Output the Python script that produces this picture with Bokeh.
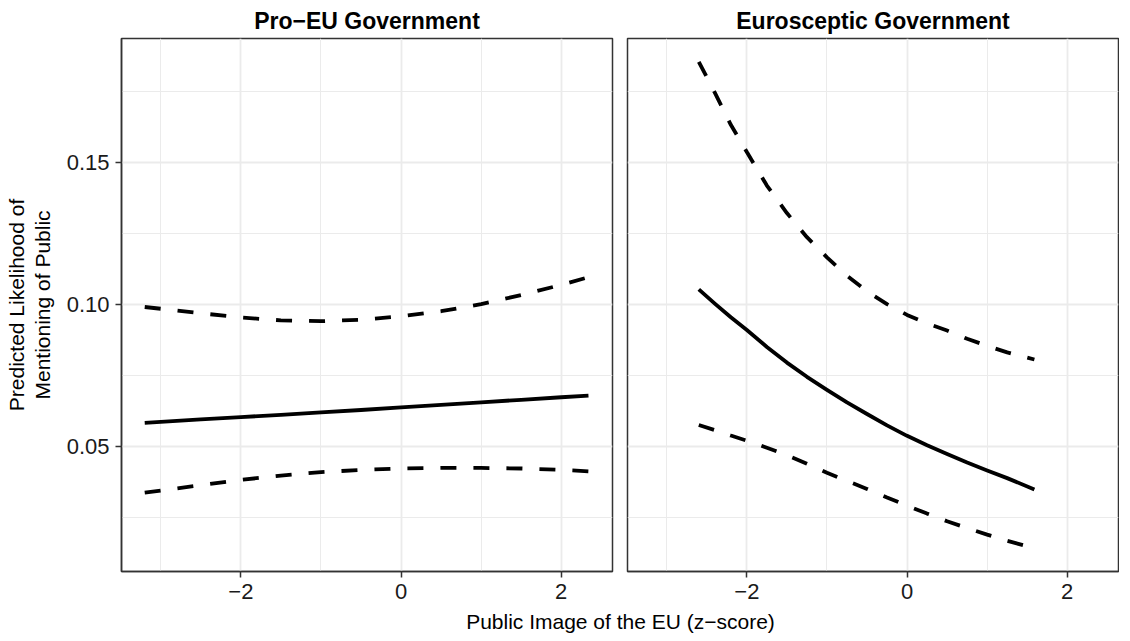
from bokeh.plotting import figure
from bokeh.layouts import row, column
from bokeh.models import Range1d, FixedTicker, PrintfTickFormatter, CustomJSTickFormatter
from bokeh.core.properties import value
from bokeh.embed import file_html
from bokeh.resources import INLINE

# ---- data ----
panel_titles = ["Pro\u2212EU Government", "Eurosceptic Government"]

pro_x = [-3.2, -2.5, -2.0, -1.5, -1.0, -0.5, 0.0, 0.5, 1.0, 1.5, 2.0, 2.34]
pro_fit = [0.0582, 0.0594, 0.0602, 0.0610, 0.0619, 0.0627, 0.0636, 0.0645, 0.0654, 0.0663, 0.0672, 0.0678]
pro_hi = [0.0990, 0.0968, 0.0953, 0.0943, 0.0940, 0.0945, 0.0957, 0.0975, 0.1000, 0.1032, 0.1068, 0.1095]
pro_lo = [0.0336, 0.0362, 0.0381, 0.0396, 0.0408, 0.0416, 0.0421, 0.0423, 0.0423, 0.0421, 0.0416, 0.0411]

euro_x = [-2.6, -2.4, -2.2, -2.0, -1.75, -1.5, -1.25, -1.0, -0.75, -0.5, -0.25,
          0.0, 0.25, 0.5, 0.75, 1.0, 1.25, 1.59]
euro_fit = [0.1052, 0.1002, 0.0954, 0.0909, 0.0849, 0.0794, 0.0744, 0.0698, 0.0654,
            0.0613, 0.0573, 0.0536, 0.0503, 0.0472, 0.0442, 0.0414, 0.0387, 0.0347]
euro_hi = [0.1854, 0.1745, 0.1632, 0.1536, 0.1418, 0.1321, 0.1236, 0.1165, 0.1100,
           0.1045, 0.1000, 0.0962, 0.0932, 0.0907, 0.0878, 0.0853, 0.0830, 0.0805]
euro_lo = [0.0574, 0.0556, 0.0537, 0.0519, 0.0494, 0.0468, 0.0438, 0.0406, 0.0377,
           0.0349, 0.0319, 0.0290, 0.0262, 0.0235, 0.0211, 0.0188, 0.0166, 0.0140]

x_ticks = [-2, 0, 2]
x_minor = [-3, -1, 1, 3]
y_ticks = [0.05, 0.10, 0.15]
y_minor = [0.025, 0.075, 0.125, 0.175]

x_label = "Public Image of the EU (z\u2212score)"
y_label = "Predicted Likelihood of\nMentioning of Public"

FONT = "Liberation Sans"
GRID = "#EBEBEB"
DARK = "#333333"

xr = Range1d(-3.49, 2.64)
yr = Range1d(0.0058, 0.1936)


def make_panel(title, x, fit, lo, hi, first):
    p = figure(frame_width=491, frame_height=533, x_range=xr, y_range=yr,
               output_backend="svg", toolbar_location=None,
               min_border_left=121 if first else 8,
               min_border_right=7 if first else 1,
               min_border_top=38, min_border_bottom=36,
               background_fill_color="white", border_fill_color="white")
    p.title.text = title
    p.title.align = "center"
    p.title.text_font = FONT
    p.title.text_font_size = "23px"
    p.title.text_font_style = "bold"
    p.title.text_color = "black"
    p.title.standoff = 9

    p.outline_line_color = DARK
    p.outline_line_width = 1.5

    xt = FixedTicker(ticks=x_ticks, minor_ticks=x_minor)
    yt = FixedTicker(ticks=y_ticks, minor_ticks=y_minor)
    p.xaxis.ticker = xt
    p.yaxis.ticker = yt
    p.xgrid.ticker = xt
    p.ygrid.ticker = yt
    p.xaxis.formatter = CustomJSTickFormatter(
        code="return tick < 0 ? '\u2212' + Math.abs(tick) : String(tick);")
    p.yaxis.formatter = PrintfTickFormatter(format="%.2f")

    for ax in (p.xaxis[0], p.yaxis[0]):
        ax.axis_line_color = DARK
        ax.axis_line_width = 1.5
        ax.major_tick_line_color = DARK
        ax.major_tick_line_width = 1.5
        ax.major_tick_out = 6
        ax.major_tick_in = 0
        ax.minor_tick_line_color = None
        ax.major_label_text_font = FONT
        ax.major_label_text_font_size = "22px"
        ax.major_label_text_color = "#1a1a1a"
        ax.major_label_standoff = 6
        ax.axis_label_text_font = FONT
        ax.axis_label_text_font_size = "21px"
        ax.axis_label_text_font_style = "normal"
        ax.axis_label_text_color = "black"

    for g in (p.xgrid[0], p.ygrid[0]):
        g.grid_line_color = GRID
        g.grid_line_width = 1.8
        g.minor_grid_line_color = GRID
        g.minor_grid_line_width = 1.0

    if first:
        p.yaxis.axis_label = y_label
        p.yaxis.axis_label_standoff = 10
        p.yaxis.axis_label_text_line_height = 1.1
    else:
        p.yaxis.visible = False

    p.line(x, fit, line_color="black", line_width=3.8, line_join="round")
    p.line(x, hi, line_color="black", line_width=3.8, line_dash="16 17")
    p.line(x, lo, line_color="black", line_width=3.8, line_dash="16 17")
    return p


p1 = make_panel(panel_titles[0], pro_x, pro_fit, pro_lo, pro_hi, True)
p2 = make_panel(panel_titles[1], euro_x, euro_fit, euro_lo, euro_hi, False)

p3 = figure(width=1119, height=26, x_range=Range1d(0, 1), y_range=Range1d(0, 1),
            output_backend="svg", toolbar_location=None,
            min_border_left=121, min_border_right=0, min_border_top=0, min_border_bottom=0,
            outline_line_color=None, background_fill_color="white", border_fill_color="white")
p3.axis.visible = False
p3.grid.visible = False
p3.text(x=[0.5], y=[0.45], text=[x_label], text_align="center", text_baseline="middle",
        text_font=value(FONT), text_font_size="21px", text_color="black")

layout = column(row(p1, p2, spacing=0), p3, spacing=0)

open("out.html", "w").write(file_html(layout, INLINE))
